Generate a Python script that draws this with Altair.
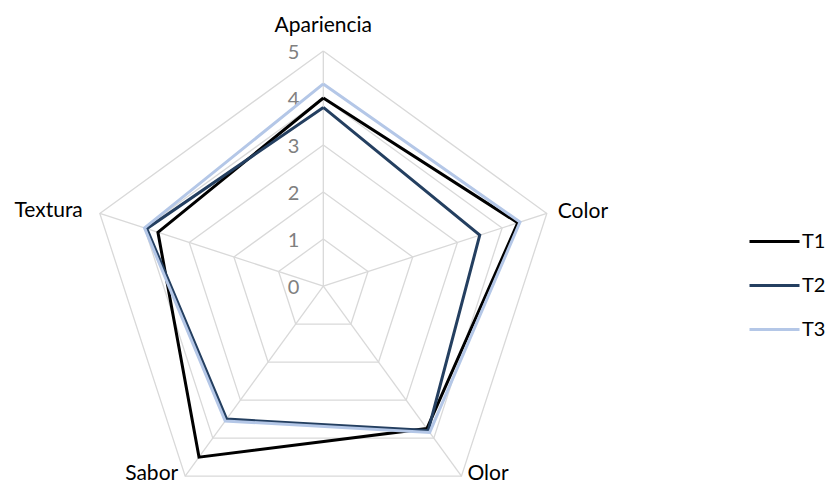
import altair as alt
import pandas as pd

categories = ["Apariencia", "Color", "Olor", "Sabor", "Textura"]
series = ["T1", "T2", "T3"]
t1 = [4.0, 4.35, 3.75, 4.5, 3.7]
t2 = [3.8, 3.5, 3.8, 3.5, 3.95]
t3 = [4.3, 4.4, 3.85, 3.55, 4.0]
tick_values = [0, 1, 2, 3, 4, 5]
colors = ["#000000", "#243F60", "#B4C7E7"]

N = len(categories)
rows = []
for s, vals in zip(series, [t1, t2, t3]):
    for k in range(N + 1):
        rows.append({"series": s, "k": k, "category": categories[k % N], "value": vals[k % N]})
df = pd.DataFrame(rows)

grid_df = pd.DataFrame([{"level": l, "k": k} for l in tick_values[1:] for k in range(N + 1)])
spoke_df = pd.DataFrame({"k": list(range(N)), "category": categories, "rmax": [max(tick_values)] * N})
tick_df = pd.DataFrame({"tick": tick_values})

xscale = alt.Scale(domain=[-6.709, 10.781], nice=False, zero=False)
yscale = alt.Scale(domain=[-4.255, 5.915], nice=False, zero=False)
ang = "datum.k * 2 * PI / 5"

grid = alt.Chart(grid_df).transform_calculate(
    gx=f"datum.level * sin({ang})", gy=f"datum.level * cos({ang})"
).mark_line(color="#D9D9D9", strokeWidth=1.3).encode(
    x=alt.X("gx:Q", scale=xscale, axis=None),
    y=alt.Y("gy:Q", scale=yscale, axis=None),
    detail="level:N",
    order="k:Q",
)

spokes = alt.Chart(spoke_df).transform_calculate(
    x0="0", y0="0",
    sx=f"datum.rmax * sin({ang})", sy=f"datum.rmax * cos({ang})"
).mark_rule(color="#D9D9D9", strokeWidth=1.3).encode(
    x=alt.X("x0:Q", scale=xscale, axis=None),
    y=alt.Y("y0:Q", scale=yscale, axis=None),
    x2="sx:Q",
    y2="sy:Q",
)

ticks = alt.Chart(tick_df).transform_calculate(tx="0").mark_text(
    align="right", baseline="middle", dx=-24, dy=2, fontSize=20, font="Lato", color="#808080"
).encode(
    x=alt.X("tx:Q", scale=xscale, axis=None),
    y=alt.Y("tick:Q", scale=yscale, axis=None),
    text="tick:Q",
)

lines = alt.Chart(df).transform_calculate(
    px=f"datum.value * sin({ang})", py=f"datum.value * cos({ang})"
).mark_line(strokeWidth=3, strokeJoin="miter").encode(
    x=alt.X("px:Q", scale=xscale, axis=None),
    y=alt.Y("py:Q", scale=yscale, axis=None),
    color=alt.Color(
        "series:N",
        scale=alt.Scale(domain=series, range=colors),
        legend=alt.Legend(
            title=None, orient="none", legendX=740, legendY=207,
            symbolType="stroke", symbolSize=2500, symbolStrokeWidth=3,
            labelFontSize=20, labelFont="Lato", labelColor="#000000",
            labelOffset=1, rowPadding=7, padding=0,
        ),
    ),
    order="k:Q",
)

label_specs = [
    ("Apariencia", "center", 0, -19),
    ("Color", "left", 11, 5),
    ("Olor", "left", 6, 4),
    ("Sabor", "right", -7, 4),
    ("Textura", "right", -17, 4),
]
label_layers = []
for cat, al, dx, dy in label_specs:
    label_layers.append(
        alt.Chart(spoke_df).transform_filter(alt.datum.category == cat).transform_calculate(
            lx=f"datum.rmax * sin({ang})", ly=f"datum.rmax * cos({ang})"
        ).mark_text(
            align=al, baseline="alphabetic", dx=dx, dy=dy, fontSize=21, font="Lato", color="#000000"
        ).encode(
            x=alt.X("lx:Q", scale=xscale, axis=None),
            y=alt.Y("ly:Q", scale=yscale, axis=None),
            text="category:N",
        )
    )

chart = alt.layer(grid, spokes, ticks, lines, *label_layers).properties(
    width=822, height=478, autosize=alt.AutoSizeParams(type="none"), padding=0
).configure_view(stroke=None)

chart.save("out.html", embed_options={"renderer": "svg", "actions": False})
